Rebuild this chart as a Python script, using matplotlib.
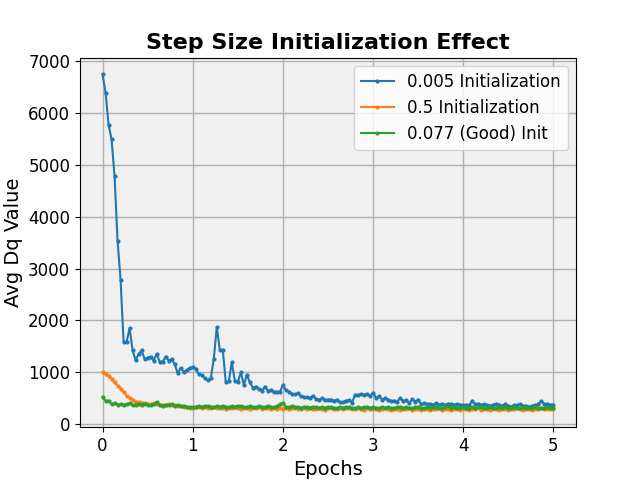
import numpy as np
import matplotlib.pyplot as plt

# avg dq per logged step, 30 logs per epoch
small_init = [
    6750, 6400, 5780, 5500, 4780, 3530, 2780, 1580, 1580, 1850,
    1420, 1230, 1350, 1420, 1250, 1280, 1300, 1220, 1350, 1200,
    1200, 1300, 1220, 1250, 1150, 980, 1080, 1000, 1040, 1080,
    1100, 1060, 960, 940, 880, 840, 880, 1250, 1870, 1430,
    1430, 800, 820, 1190, 830, 800, 1000, 750, 950, 800,
    700, 720, 680, 640, 720, 640, 650, 620, 620, 620,
    750, 650, 620, 580, 570, 590, 530, 520, 510, 500,
    540, 480, 470, 490, 460, 470, 470, 450, 470, 420,
    420, 450, 460, 410, 560, 560, 570, 560, 580, 540,
    600, 500, 530, 470, 500, 470, 440, 450, 430, 500,
    440, 460, 400, 480, 430, 470, 380, 400, 380, 390,
    370, 400, 370, 390, 360, 390, 380, 370, 380, 370,
    360, 370, 360, 450, 380, 390, 370, 380, 360, 350,
    370, 390, 370, 350, 380, 350, 330, 360, 360, 380,
    350, 350, 330, 350, 360, 380, 440, 380, 390, 370,
    370,
]
large_init = [
    1000, 960, 920, 870, 800, 740, 680, 610, 540, 500,
    470, 430, 420, 410, 400, 390, 380, 400, 380, 370,
    370, 360, 380, 360, 370, 350, 340, 330, 320, 310,
    310, 320, 330, 310, 320, 300, 310, 320, 300, 310,
    300, 290, 310, 300, 320, 300, 290, 310, 300, 290,
    310, 300, 320, 290, 300, 310, 280, 300, 290, 310,
    290, 300, 280, 300, 310, 290, 280, 300, 290, 300,
    280, 290, 310, 290, 260, 300, 310, 290, 280, 300,
    290, 310, 300, 280, 290, 300, 280, 270, 300, 290,
    280, 290, 270, 290, 300, 280, 260, 290, 280, 270,
    290, 280, 300, 270, 290, 280, 260, 290, 280, 270,
    290, 280, 300, 270, 280, 290, 270, 280, 290, 260,
    280, 290, 270, 280, 290, 300, 270, 280, 290, 270,
    280, 290, 270, 290, 280, 270, 290, 280, 300, 280,
    270, 290, 280, 270, 290, 280, 300, 290, 280, 290,
    290,
]
good_init = [
    520, 440, 450, 380, 400, 370, 380, 370, 380, 400,
    360, 370, 380, 360, 390, 370, 360, 380, 420, 360,
    350, 370, 360, 380, 340, 360, 340, 350, 330, 320,
    320, 330, 340, 330, 350, 340, 330, 320, 340, 330,
    350, 330, 320, 340, 330, 350, 340, 330, 320, 340,
    330, 320, 340, 330, 320, 350, 330, 320, 340, 380,
    400, 330, 320, 340, 330, 320, 310, 330, 320, 310,
    330, 320, 300, 320, 310, 330, 320, 310, 300, 320,
    310, 330, 320, 310, 300, 320, 310, 320, 330, 310,
    320, 310, 300, 320, 310, 320, 300, 310, 320, 330,
    310, 320, 300, 310, 320, 330, 310, 300, 320, 310,
    330, 320, 310, 300, 320, 340, 310, 320, 300, 310,
    320, 310, 300, 320, 310, 320, 330, 310, 300, 320,
    310, 300, 320, 310, 320, 300, 310, 320, 310, 300,
    320, 310, 300, 310, 320, 310, 300, 310, 320, 310,
    310,
]
labels = ['0.005 Initialization', '0.5 Initialization', '0.077 (Good) Init']

epochs = np.arange(len(small_init)) / 30

fig, ax = plt.subplots(figsize=(6.4, 4.8), dpi=100)
ax.set_facecolor('#f0f0f0')
for series, lab in zip([small_init, large_init, good_init], labels):
    ax.plot(epochs, series, marker='o', markersize=2, linewidth=1.5, label=lab)

ax.set_title('Step Size Initialization Effect', fontsize=16, fontweight='bold')
ax.set_xlabel('Epochs', fontsize=14)
ax.set_ylabel('Avg Dq Value', fontsize=14)
ax.tick_params(labelsize=12)
ax.grid(True, color='#b0b0b0', linewidth=1)
ax.set_axisbelow(True)
ax.legend(fontsize=12)
plt.savefig('out.png')
